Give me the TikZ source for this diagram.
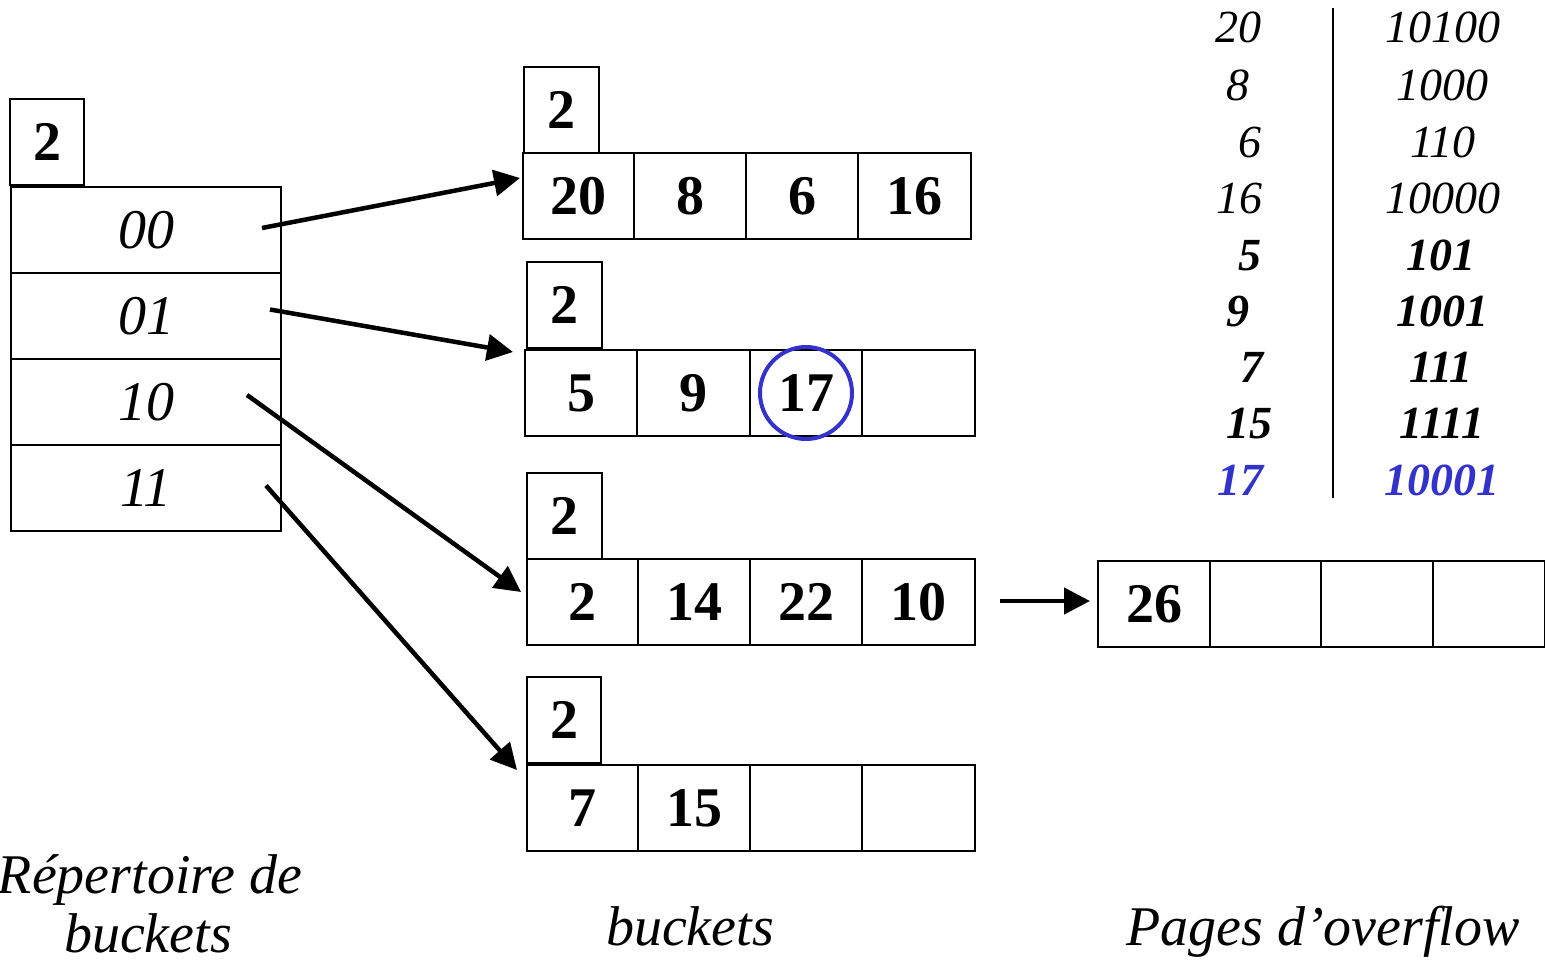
\documentclass[tikz,border=0pt]{standalone}
\usepackage{fontspec}
\setmainfont{Liberation Serif}
\usetikzlibrary{arrows.meta,calc,positioning}
\definecolor{hblue}{RGB}{51,51,204}
\begin{document}
\begin{tikzpicture}[x=1pt,y=-1pt,
  box/.style={draw, line width=1.8pt, rectangle, inner sep=0pt, outer sep=0pt},
  cell/.style={box, minimum width=112pt, minimum height=86pt, font=\fontsize{56}{60}\selectfont\bfseries},
  hdr/.style={box, minimum width=75pt, minimum height=86pt, font=\fontsize{56}{60}\selectfont\bfseries},
  dcell/.style={box, minimum width=270pt, minimum height=86pt, font=\fontsize{56}{60}\selectfont\itshape},
  tab/.style={anchor=base, inner sep=0pt, font=\fontsize{46}{50}\selectfont\itshape},
  tabb/.style={tab, font=\fontsize{46}{50}\selectfont\bfseries\itshape},
  lbl/.style={anchor=base, inner sep=0pt, font=\fontsize{56}{60}\selectfont\itshape},
  arr/.style={line width=4.5pt, -{Triangle[length=26pt,width=26pt]}}
]
\useasboundingbox (0,0) rectangle (1545,966);

% directory
\node[hdr, minimum width=74pt] (dh) at (47,142) {2};
\node[dcell] (d00) at (146,230) {00};
\node[dcell, below=0pt of d00] (d01) {01};
\node[dcell, below=0pt of d01] (d10) {10};
\node[dcell, below=0pt of d10] (d11) {11};

% bucket 1
\node[hdr] (b1h) at (561.5,110) {2};
\node[cell, minimum width=111pt] (b1c1) at (578.5,196) {20};
\node[cell, right=0pt of b1c1] (b1c2) {8};
\node[cell, right=0pt of b1c2] (b1c3) {6};
\node[cell, right=0pt of b1c3, minimum width=113pt] (b1c4) {16};

% bucket 2
\node[hdr] (b2h) at (564.5,305) {2};
\node[cell] (b2c1) at (581,393) {5};
\node[cell, right=0pt of b2c1, minimum width=113pt] (b2c2) {9};
\node[cell, right=0pt of b2c2] (b2c3) {17};
\node[cell, right=0pt of b2c3, minimum width=113pt] (b2c4) {};
\node[draw=hblue, circle, line width=4pt, minimum size=92pt, inner sep=0pt] (circ) at (b2c3.center) {};

% bucket 3
\node[hdr] (b3h) at (564.5,516) {2};
\node[cell, minimum width=111pt] (b3c1) at (582.5,602) {2};
\node[cell, right=0pt of b3c1] (b3c2) {14};
\node[cell, right=0pt of b3c2] (b3c3) {22};
\node[cell, right=0pt of b3c3, minimum width=113pt] (b3c4) {10};

% bucket 4
\node[hdr, minimum width=74pt] (b4h) at (564,720) {2};
\node[cell, minimum width=111pt] (b4c1) at (582.5,808) {7};
\node[cell, right=0pt of b4c1] (b4c2) {15};
\node[cell, right=0pt of b4c2] (b4c3) {};
\node[cell, right=0pt of b4c3, minimum width=113pt] (b4c4) {};

% overflow page
\node[cell] (o1) at (1154,604) {26};
\node[cell, right=0pt of o1, minimum width=111pt] (o2) {};
\node[cell, right=0pt of o2] (o3) {};
\node[cell, right=0pt of o3] (o4) {};

% connectors
\coordinate (s00) at ($(d00.east)+(-19,-2)$);
\coordinate (s01) at ($(d01.east)+(-11,-6.5)$);
\coordinate (s10) at ($(d10.east)+(-34,-7)$);
\coordinate (s11) at ($(d11.east)+(-15,-2.5)$);
\coordinate (e00) at ($(b1c1.west)+(-3,-18)$);
\coordinate (e01) at ($(b2c1.west)+(-12,-41)$);
\coordinate (e10) at ($(b3c1.west)+(-6,-10)$);
\coordinate (e11) at ($(b4c1.west)+(-10,-38)$);
\coordinate (so) at ($(b3c4.east)+(25,-1)$);
\coordinate (eo) at ($(o1.west)+(-8,-3)$);
\draw[arr] (s00) -- (e00);
\draw[arr] (s01) -- (e01);
\draw[arr] (s10) -- (e10);
\draw[arr] (s11) -- (e11);
\draw[arr] (so) -- (eo);

% table
\coordinate (vt) at (1333,8);
\coordinate (vb) at (1333,498);
\draw[line width=1.5pt] (vt) -- (vb);
\node[tab] (l1) at (1238,43) {20};
\node[tab] (l2) at (1238,100) {8};
\node[tab] (l3) at (1250,157) {6};
\node[tab] (l4) at (1239,213) {16};
\node[tabb] (l5) at (1250,270) {5};
\node[tabb] (l6) at (1238,326) {9};
\node[tabb] (l7) at (1252,382) {7};
\node[tabb] (l8) at (1249,438) {15};
\node[tabb, text=hblue] (l9) at (1240,495) {17};
\node[tab] (r1) at (1443,43) {10100};
\node[tab] (r2) at (1442,100) {1000};
\node[tab] (r3) at (1443,157) {110};
\node[tab] (r4) at (1443,213) {10000};
\node[tabb] (r5) at (1441,270) {101};
\node[tabb] (r6) at (1442,326) {1001};
\node[tabb] (r7) at (1441,382) {111};
\node[tabb] (r8) at (1442,438) {1111};
\node[tabb, text=hblue] (r9) at (1442,495) {10001};

% captions
\node[lbl] (cap1a) at (150,893) {Répertoire de};
\node[lbl] (cap1b) at (148,952) {buckets};
\node[lbl] (cap2) at (690,945) {buckets};
\node[lbl] (cap3) at (1323,945) {Pages d’overflow};
\end{tikzpicture}
\end{document}
